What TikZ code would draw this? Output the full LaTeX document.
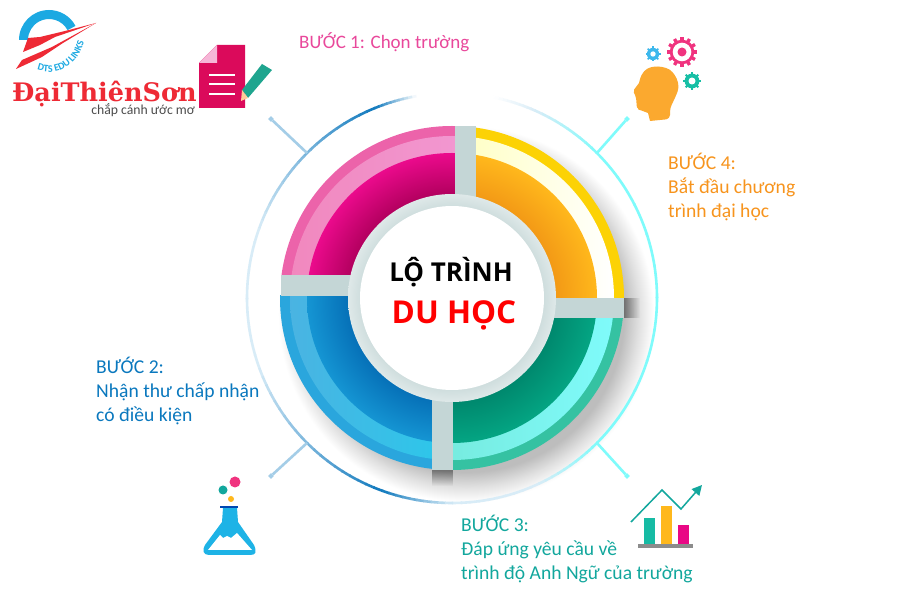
\documentclass[tikz,border=0pt]{standalone}
\usepackage{fontspec}
\setmainfont{Carlito}
\newfontfamily\logofont{DejaVu Serif}
\newfontfamily\titlefont{Open Sans}
\usetikzlibrary{arrows.meta,calc,decorations.text,fadings}

\definecolor{stepone}{HTML}{E9489B}
\definecolor{steptwo}{HTML}{0A78BE}
\definecolor{stepthree}{HTML}{12A79D}
\definecolor{stepfour}{HTML}{F7941D}
\definecolor{barcol}{HTML}{C4D6D6}
\definecolor{logored}{HTML}{EE2A35}
\definecolor{logoblue}{HTML}{1CA9E2}
\definecolor{arcdark}{HTML}{1079BD}
\definecolor{arcmid}{HTML}{7DB7DD}
\definecolor{arcpale}{HTML}{D8ECF7}
\definecolor{arccyan}{HTML}{7FFBFB}
\definecolor{pinkdark}{HTML}{B3005F}
\definecolor{pinkdeep}{HTML}{EB0A8C}
\definecolor{pinkmid}{HTML}{F3A5E2}
\definecolor{ambdark}{HTML}{F39A16}
\definecolor{ambdeep}{HTML}{FFB81C}
\definecolor{tealdark}{HTML}{00896E}
\definecolor{tealdeep}{HTML}{04A583}
\definecolor{tealout}{HTML}{35C2A2}
\definecolor{tealmid}{HTML}{6FDCC5}
\definecolor{bluedark}{HTML}{0671B8}
\definecolor{bluedeep}{HTML}{1595D3}
\definecolor{blueout}{HTML}{2AA6DD}
\definecolor{docpink}{HTML}{DB0A5B}
\definecolor{gearpink}{HTML}{F0337F}
\definecolor{gearblue}{HTML}{3DB8EC}
\definecolor{gearteal}{HTML}{17BFA5}
\definecolor{flaskblue}{HTML}{1EB3E6}
\definecolor{headcol}{HTML}{FBA92F}
\definecolor{pencilcol}{HTML}{1FA58F}

\pgfdeclareradialshading{dropshade}{\pgfpointorigin}{
  color(0bp)=(black!28); color(21bp)=(black!26); color(23bp)=(black!12); color(25bp)=(white); color(50bp)=(white)}
\pgfdeclareradialshading{ringshade}{\pgfpointorigin}{
  color(0bp)=(barcol); color(20bp)=(barcol); color(25bp)=(barcol!55!white); color(50bp)=(barcol!55!white)}
\newcommand{\deepshade}[3]{%
  \pgfdeclareradialshading{#1}{\pgfpointorigin}{
    color(0bp)=(#2); color(18bp)=(#2); color(25bp)=(#3); color(50bp)=(#3)}}
\deepshade{deeppink}{pinkdark}{pinkdeep}
\deepshade{deepamber}{ambdark}{ambdeep}
\deepshade{deepteal}{tealdark}{tealdeep}
\deepshade{deepblue}{bluedark}{bluedeep}

% gear: centre, colour, outer radius, hole radius, number of teeth
\newcommand{\gearicon}[5]{%
  \foreach \g in {1,...,#5}{
    \draw[#2, line width=#3*0.22pt] ($#1+(\g*360/#5:#3*0.7)$) -- ($#1+(\g*360/#5:#3)$);
  }
  \fill[#2] #1 circle (#3*0.82);
  \fill[white] #1 circle (#4);
}

\begin{document}
\begin{tikzpicture}[x=1pt,y=1pt,
    steptext/.style = {align=left, anchor=north west, inner sep=0pt,
      font=\fontsize{19.6}{24.2}\selectfont},
    bar/.style = {fill=barcol},
    tickdot/.style = {rectangle, rotate=45, minimum size=4pt, inner sep=0pt},
    ball/.style = {circle, inner sep=0pt}
  ]
  \useasboundingbox (0,0) rectangle (900,600);
  \fill[white] (0,0) rectangle (900,600);

  \coordinate (c) at (452,302);

  % soft shadow
  \shade[shading=dropshade] (466,286) circle (188);

  % outer thin ring
  \foreach \a/\b/\ca/\cb in {
      -90/-65/arcpale/arcpale, -65/-45/arcpale/arccyan, -45/45/arccyan/arccyan,
      45/66/arccyan/arcpale, 66/78/arcpale/white, 78/100/white/white,
      100/112/white/arcdark, 112/136/arcdark/arcmid, 136/160/arcmid/arcpale,
      160/200/arcpale/arcpale, 200/225/arcpale/arcmid, 225/250/arcmid/arcdark,
      250/270/arcdark/arcpale}{
    \foreach \t in {0,1,...,9}{
      \pgfmathsetmacro\mix{int(100-\t*10-5)}
      \pgfmathsetmacro\sa{\a+(\b-\a)*\t/10}
      \pgfmathsetmacro\sb{\a+(\b-\a)*(\t+1)/10+0.3}
      \draw[line width=2.6pt, color=\ca!\mix!\cb]
        (c) ++(\sa:205) arc[start angle=\sa, end angle=\sb, radius=205];
    }
  }

  % ticks
  \foreach \nm/\ang/\tx/\ty/\col in {
      tl/135/271/481/arcmid!70!white, tr/45/627/481/arccyan,
      bl/225/271/124/arcmid!70!white, br/-45/627/124/arccyan}{
    \coordinate (ring\nm) at ($(c)+(\ang:205)$);
    \node[tickdot, fill=\col] (dot\nm) at (\tx,\ty) {};
    \draw[line width=2.6pt, \col] (ring\nm) -- (dot\nm);
  }

  % shadows of the bar ends
  \fill[black, opacity=0.4, path fading=east] (624,282) rectangle (640,302);
  \fill[black, opacity=0.4, path fading=south] (432,130) rectangle (453,114);

  % quadrants
  \begin{scope}
    \clip (280,325) rectangle (455,474);
    \fill[color=stepone!85!white] (c) circle (172);
    \shade[left color=stepone!65!white, middle color=pinkmid, right color=pinkmid] (c) circle (162);
    \shade[shading=deeppink] (c) circle (145);
  \end{scope}
  \begin{scope}
    \clip (476,302) rectangle (625,474);
    \fill[color=yellow!70!orange] (c) circle (172);
    \shade[left color=yellow!50!white, middle color=yellow!50!white, right color=white] (c) circle (162);
    \shade[shading=deepamber] (c) circle (145);
  \end{scope}
  \begin{scope}
    \clip (453,130) rectangle (625,282);
    \fill[color=tealout] (c) circle (172);
    \shade[left color=tealmid, middle color=tealmid, right color=arccyan] (c) circle (162);
    \shade[shading=deepteal] (c) circle (145);
  \end{scope}
  \begin{scope}
    \clip (280,130) rectangle (432,304);
    \fill[color=blueout] (c) circle (172);
    \shade[left color=blueout!85!white, middle color=cyan!60!logoblue, right color=cyan!60!logoblue] (c) circle (162);
    \shade[shading=deepblue] (c) circle (145);
  \end{scope}

  % gray cross and hub
  \fill[bar] (455,474) rectangle (476,390);
  \fill[bar] (281,304) rectangle (360,325);
  \fill[bar] (624,282) rectangle (545,302);
  \fill[bar] (432,130) rectangle (453,210);
  \shade[shading=ringshade] (c) circle (104);
  \fill[white] (c) circle (92);

  \node[font=\fontsize{26}{26}\titlefont\bfseries, inner sep=0pt, anchor=base] (title1) at (451,318) {LỘ TRÌNH};
  \node[font=\fontsize{31.5}{31.5}\titlefont\bfseries, text=red, inner sep=0pt, anchor=base] (title2) at (454,276) {DU HỌC};

  % step texts
  \node[steptext, text=stepone, font=\fontsize{19}{24.2}\selectfont] (step1) at (299,568) {BƯỚC 1: Chọn trường};
  \node[steptext, text=stepfour] (step4) at (668,447) {BƯỚC 4:\\Bắt đầu chương\\trình đại học};
  \node[steptext, text=steptwo] (step2) at (96,243) {BƯỚC 2:\\Nhận thư chấp nhận\\có điều kiện};
  \node[steptext, text=stepthree] (step3) at (461,85) {BƯỚC 3:\\Đáp ứng yêu cầu về\\trình độ Anh Ngữ của trường};

  % logo
  \fill[logoblue] (19,560) arc[start angle=180, end angle=28, radius=30]
    -- ($(49,560)+(28:21)$) arc[start angle=28, end angle=180, radius=21] -- cycle;
  \fill[logored] (96,577) -- (65,569) -- (40,563) -- (28,562) -- (23,548) -- (40,555) -- (55,563) -- cycle;
  \fill[logored] (96,577) -- (52,553) -- (22,540) -- (16,531) -- (42,543) -- (63,557) -- cycle;
  \path[decorate, decoration={text along path, text align=center,
      text={|\fontsize{10}{10}\selectfont\bfseries\color{logoblue}|DTS EDU LINKS}}]
    (30,534) .. controls (50,520) and (80,530) .. (86,566);
  \node[font=\fontsize{25.5}{25.5}\logofont\bfseries, text=logored, inner sep=0pt, anchor=base west] (logoname) at (12,498) {ĐạiThiênSơn};
  \node[font=\fontsize{13.7}{13.7}\selectfont, text=black!70, inner sep=0pt, anchor=base east] (logosub) at (195,485) {chắp cánh ước mơ};

  % document icon
  \fill[docpink] (199,537) -- (217,555) -- (245,555) -- (245,492) -- (199,492) -- cycle;
  \fill[stepone!40!white] (199,537) -- (217,555) -- (217,537) -- cycle;
  \foreach \ly in {525,516,506}{
    \draw[white, line width=2pt] (209,\ly) -- (235,\ly);
  }
  \fill[pencilcol] (242,510) -- (262,536) -- (272,530) -- (248,502) -- cycle;
  \fill[orange!40!white] (242,510) -- (241,499) -- (248,502) -- cycle;

  % head icon
  \fill[headcol, rounded corners=3pt] (633,509) [sharp corners] -- (639,517) [rounded corners=4pt] -- (641,525) -- (647,532) -- (658,534)
    -- (670,531) -- (677,522) -- (679,512) -- (675,502) -- (670,492) -- (670,481) [sharp corners] -- (650,479)
    -- (648,487) [rounded corners=2pt] -- (640,490) -- (637,491) -- (636,503) -- cycle;
  \gearicon{(682,548)}{gearpink}{15}{9.3}{12}
  \fill[gearpink] (682,548) circle (4.5);
  \gearicon{(653,546)}{gearblue}{7.5}{2.7}{8}
  \gearicon{(692,519)}{gearteal}{9}{3.5}{8}

  % flask icon
  \fill[flaskblue] (223,92) -- (237,92) -- (238,78) -- (254,55) .. controls (257,48) and (256,45) .. (250,45)
    -- (209,45) .. controls (203,45) and (202,50) .. (205,55) -- (222,78) -- cycle;
  \fill[white] (208,50) -- (220,65) -- (223,62) -- (227,64) -- (231,62) -- (237,67) -- (252,50) -- cycle;
  \fill[blue!60!cyan!70!black] (220,92) rectangle (238,94);
  \node[ball, fill=gearpink, minimum size=11pt] (ball1) at (235,118) {};
  \node[ball, fill=stepthree, minimum size=9pt] (ball2) at (223,110) {};
  \node[ball, fill=ambdeep, minimum size=6pt] (ball3) at (231,101) {};

  % chart icon
  \fill[black!45] (638,56) rectangle (693,52);
  \fill[gearteal!85!stepthree] (644,56) rectangle (655,82);
  \fill[ambdeep] (661,56) rectangle (672,94);
  \fill[magenta!80!pinkdeep] (678,56) rectangle (689,75);
  \coordinate (line0) at (631,78);
  \coordinate (line1) at (662,110);
  \coordinate (line2) at (681,91);
  \coordinate (line3) at (702,115);
  \draw[stepthree, line width=1.5pt, -{Triangle[length=10pt,width=10pt]}]
    (line0) -- (line1) -- (line2) -- (line3);
\end{tikzpicture}
\end{document}
